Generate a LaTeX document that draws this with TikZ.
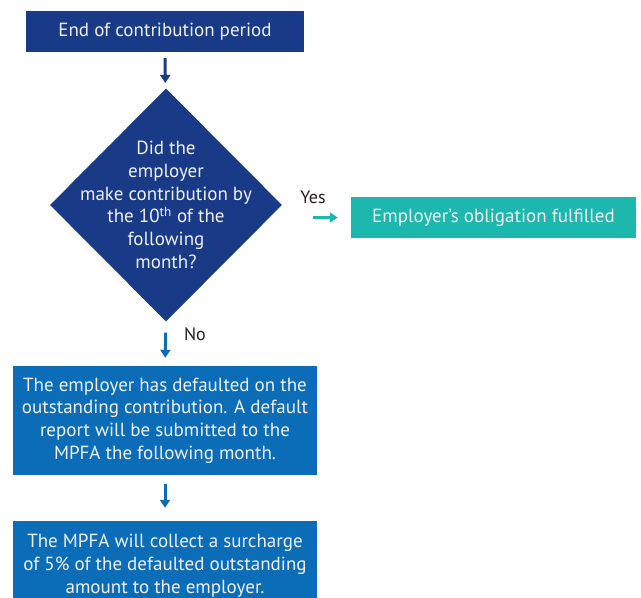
\documentclass[tikz,border=0pt]{standalone}
\usepackage{fontspec}
\setmainfont{PT Sans}
\usepackage{tikz}
\usetikzlibrary{positioning,arrows.meta,shapes.geometric}
\definecolor{navyblue}{HTML}{183A87}
\definecolor{midblue}{HTML}{0B6DB7}
\definecolor{tealgreen}{HTML}{1CB8AE}
\definecolor{labelgrey}{HTML}{231F20}

\begin{document}
\begin{tikzpicture}[x=1pt,y=1pt,
 box/.style={rectangle,inner sep=0pt,text=white!94!black,align=center,
   font=\fontsize{19}{22.7}\selectfont},
 decide/.style={diamond,inner sep=0pt,minimum width=232pt,minimum height=233pt,
   fill=navyblue},
 flow/.style={-{Triangle[width=10pt,length=8pt]},line width=3pt},
 lab/.style={text=labelgrey,font=\fontsize{18}{20}\selectfont}]
\useasboundingbox (0,0) rectangle (641,598);
% boxes, top to bottom
\node[box,fill=navyblue,minimum width=278pt,minimum height=41pt] (start) at (165,566.5)
 {End of contribution period};
\node[decide] (check) at (166,393) {};
\node[box] (question) at (check)
 {Did the\\employer\\make contribution by\\the 10\textsuperscript{th} of the\\following\\month?};
\node[box,fill=tealgreen,minimum width=285pt,minimum height=41pt] (done) at (493.5,380.5)
 {Employer’s obligation fulfilled};
\node[box,fill=midblue,minimum width=304pt,minimum height=109pt] (default) at (165,177.5)
 {The employer has defaulted on the\\outstanding contribution. A default\\report will be submitted to the\\MPFA the following month.};
\node[box,fill=midblue,minimum width=304pt,minimum height=89pt] (surcharge) at (165,32.5)
 {The MPFA will collect a surcharge\\of 5\% of the defaulted outstanding\\amount to the employer.};
% arrows
\draw[flow,navyblue,shorten <=6pt,shorten >=6pt] (start) -- (check);
\draw[flow,tealgreen,shorten <=31pt,shorten >=13pt] (check.east |- done.west) -- (done.west);
\draw[flow,midblue,shorten <=11pt,shorten >=8pt] (check.south) -- (default.north);
\draw[flow,midblue,shorten <=9pt,shorten >=13pt] (default) -- (surcharge);
\node[lab] (yes) at (313,401) {Yes};
\node[lab] (no) at (195,264) {No};
\end{tikzpicture}
\end{document}
